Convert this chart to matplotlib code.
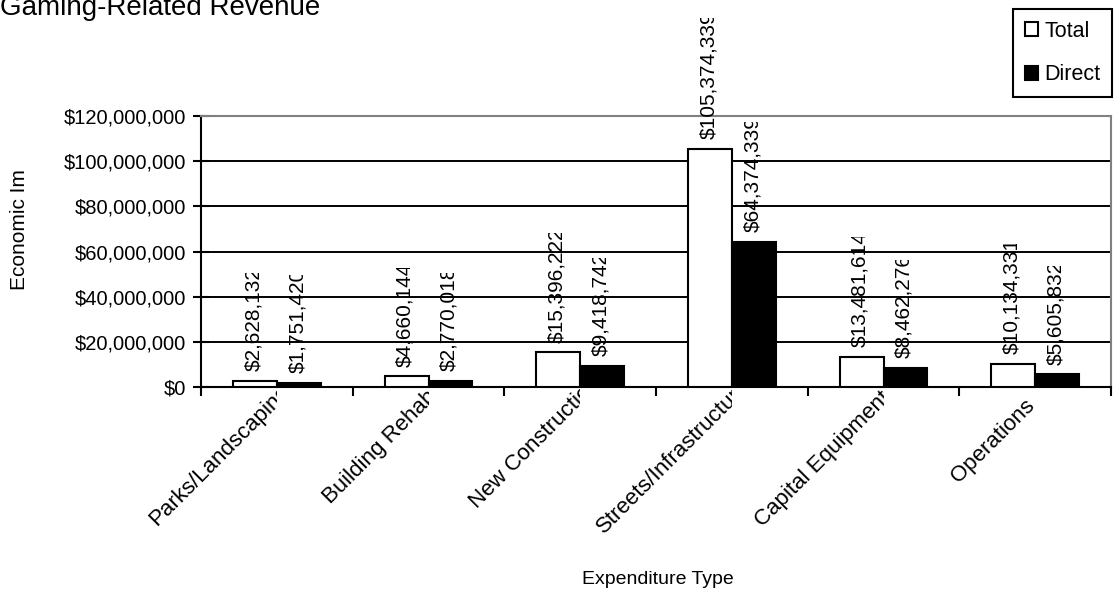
import matplotlib
matplotlib.use("Agg")
import matplotlib.pyplot as plt
import numpy as np
from matplotlib.ticker import FuncFormatter, MultipleLocator
from matplotlib.transforms import Bbox, TransformedBbox

categories = ["Parks/Landscaping", "Building Rehab", "New Construction",
              "Streets/Infrastructure", "Capital Equipment", "Operations"]
total = [2628132, 4660144, 15396222, 105374339, 13481614, 10134331]
direct = [1751420, 2770018, 9418742, 64374339, 8462276, 5605832]

# how far (px) each category label runs past its clip edge
label_overflow = [20, 13, 30, 28, 11, 0]

plt.rcParams["font.family"] = ["Liberation Sans", "DejaVu Sans"]

W, H = 1114, 597
fig = plt.figure(figsize=(W / 100, H / 100), dpi=100)
ax = fig.add_axes([201 / W, 1 - 387 / H, 910 / W, 271 / H])

x = np.arange(len(categories)) + 0.5
bw = 0.29
b1 = ax.bar(x - bw / 2, total, bw, color="white", edgecolor="black",
            linewidth=1.5, label="Total", zorder=3)
b2 = ax.bar(x + bw / 2, direct, bw, color="black", edgecolor="black",
            linewidth=1.5, label="Direct", zorder=3)

ax.set_xlim(0, len(categories))
ax.set_ylim(0, 120000000)
ax.yaxis.set_major_locator(MultipleLocator(20000000))
ax.yaxis.set_major_formatter(FuncFormatter(lambda v, p: f"${v:,.0f}"))
ax.set_xticks(np.arange(len(categories) + 1))
ax.tick_params(axis="x", direction="out", length=6.5, width=1.5, labelbottom=False)
ax.tick_params(axis="y", direction="inout", length=12, width=1.5, pad=5,
               labelsize=14.5)
ax.yaxis.grid(True, color="black", linewidth=1.4)
ax.set_axisbelow(True)
for s in ("left", "bottom"):
    ax.spines[s].set_linewidth(1.5)
for s in ("top", "right"):
    ax.spines[s].set_color("#808080")
    ax.spines[s].set_linewidth(1.5)

# value labels above each bar
value_labels = []
for bars, vals in ((b1, total), (b2, direct)):
    for rect, v in zip(bars, vals):
        t = ax.annotate(f"${v:,}", (rect.get_x() + rect.get_width() / 2, v),
                        xytext=(-1, 7), textcoords="offset points",
                        rotation=90, ha="center", va="bottom", fontsize=15,
                        annotation_clip=False)
        value_labels.append(t)

# category labels at 45 degrees, baseline end hung under the category centre
cat_labels = []
c45 = np.cos(np.radians(45))
for xc, name, ov in zip(x, categories, label_overflow):
    ovp = ov * 0.72
    t = ax.annotate(name, (xc, 0), xytext=(ovp * c45, -14 + ovp * c45),
                    textcoords="offset points", rotation=45,
                    rotation_mode="anchor", ha="right", va="baseline",
                    fontsize=16, annotation_clip=False)
    cat_labels.append(t)

ylab = fig.text(20 / W, 1 - 290 / H, "Economic Impact", rotation=90,
                ha="center", va="bottom", fontsize=15)
fig.text(658 / W, 1 - 584 / H, "Expenditure Type", ha="center",
         va="baseline", fontsize=14)
fig.text(0, 1 - 15 / H, "Gaming-Related Revenue", ha="left",
         va="baseline", fontsize=20)

leg = fig.legend(handles=[b1, b2], loc="upper right",
                 bbox_to_anchor=(1112 / W, 1 - 9 / H), frameon=True,
                 fancybox=False, edgecolor="black", framealpha=1,
                 fontsize=15.5, handlelength=0.6, handleheight=0.6,
                 handletextpad=0.3, labelspacing=1.05, borderpad=0.55,
                 borderaxespad=0)
leg.get_frame().set_linewidth(1.5)

fig.canvas.draw()
to_fig = fig.transFigure.inverted()


def clip_to(t, x0, y0, x1, y1):
    t.set_clip_path(None)
    box = Bbox(to_fig.transform([[x0, y0], [x1, y1]]))
    t.set_clip_box(TransformedBbox(box, fig.transFigure))
    t.set_clip_on(True)


for t in value_labels:
    bb = t.get_window_extent()
    clip_to(t, bb.x0 - 10, bb.y0 - 10, bb.x1 + 10, bb.y1 - 6)

for t, xc in zip(cat_labels, x):
    xp = ax.transData.transform((xc, 0))[0]
    bb = t.get_window_extent()
    clip_to(t, bb.x0 - 10, bb.y0 - 10, xp, bb.y1 + 10)

bb = ylab.get_window_extent()
clip_to(ylab, bb.x0 - 10, bb.y0 - 10, bb.x1 + 10, H - 170)

fig.savefig("out.png", dpi=100)
